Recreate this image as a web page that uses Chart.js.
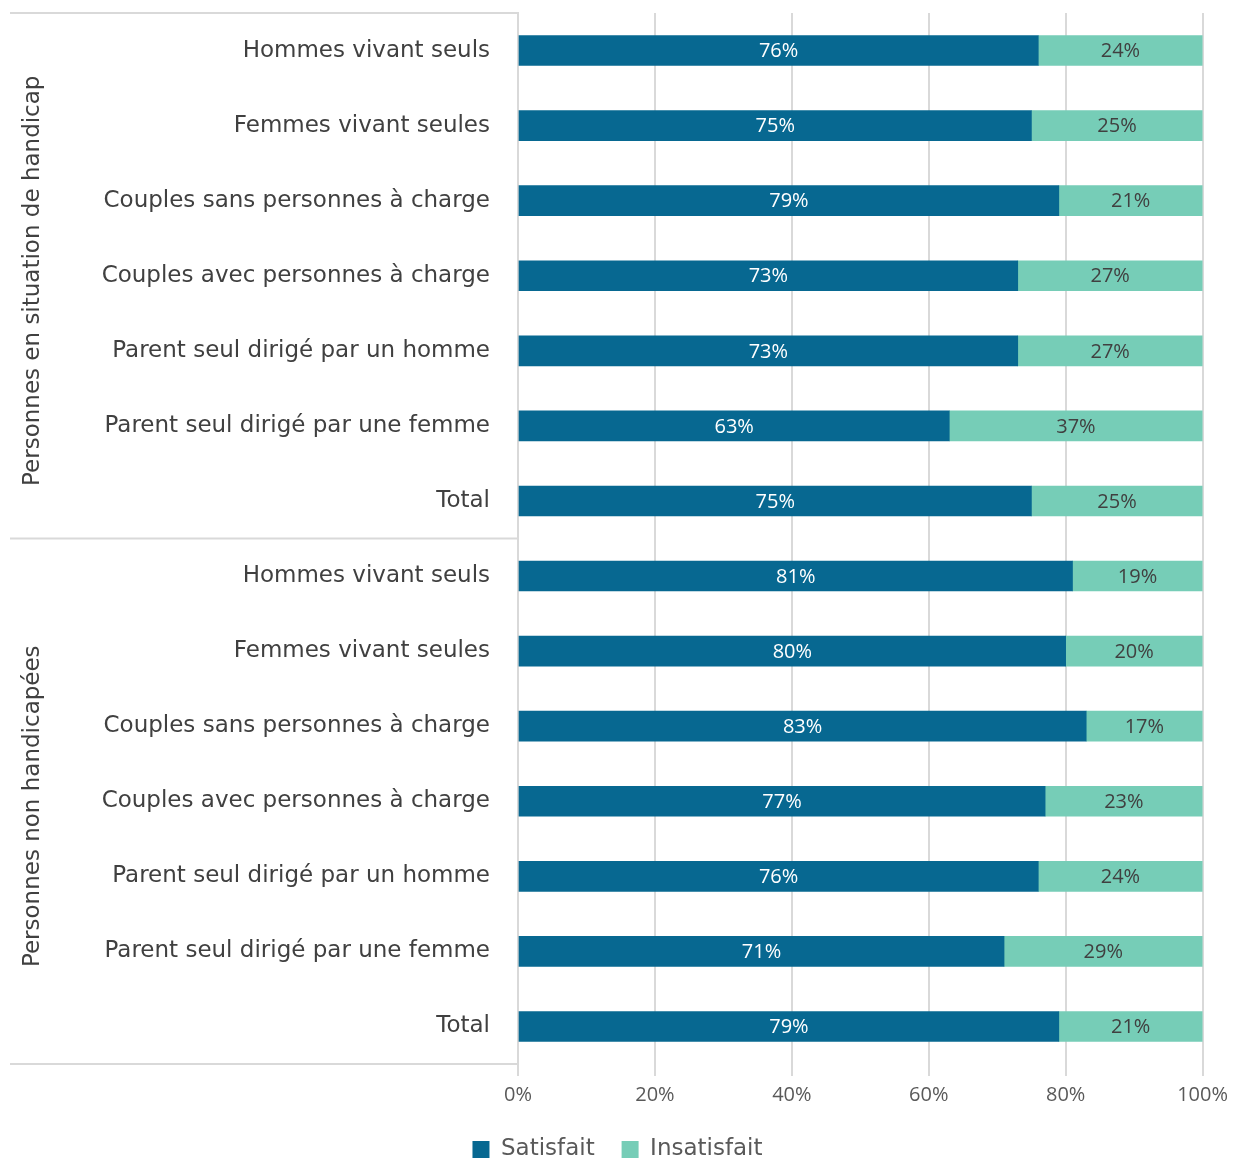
<!DOCTYPE html>
<html>
<head>
<meta charset="utf-8">
<script src="https://cdn.jsdelivr.net/npm/chart.js@4"></script>
<style>
  html, body { margin: 0; padding: 0; background: #fff; }
  #wrap { width: 1235px; height: 1161px; }
</style>
</head>
<body>
<div id="wrap"><canvas id="myChart"></canvas></div>
<script>
const categories = [
    'Hommes vivant seuls',
    'Femmes vivant seules',
    'Couples sans personnes à charge',
    'Couples avec personnes à charge',
    'Parent seul dirigé par un homme',
    'Parent seul dirigé par une femme',
    'Total',
    'Hommes vivant seuls',
    'Femmes vivant seules',
    'Couples sans personnes à charge',
    'Couples avec personnes à charge',
    'Parent seul dirigé par un homme',
    'Parent seul dirigé par une femme',
    'Total',
];
const satisfait = [76, 75, 79, 73, 73, 63, 75, 81, 80, 83, 77, 76, 71, 79];
const insatisfait = [24, 25, 21, 27, 27, 37, 25, 19, 20, 17, 23, 24, 29, 21];
const groups = ['Personnes en situation de handicap', 'Personnes non handicapées'];
const groupSizes = [7, 7];
const xTicks = [0, 20, 40, 60, 80, 100];

const labelFont = '"DejaVu Sans", sans-serif';

// étiquettes de valeur au centre des barres
const barLabels = {
    id: 'barLabels',
    afterDatasetsDraw(chart) {
        const ctx = chart.ctx;
        ctx.save();
        ctx.font = '20px "Open Sans", sans-serif';
        ctx.textAlign = 'center';
        ctx.textBaseline = 'middle';
        chart.data.datasets.forEach((ds, i) => {
            const meta = chart.getDatasetMeta(i);
            ctx.fillStyle = i === 0 ? '#ffffff' : '#404040';
            meta.data.forEach((bar, j) => {
                const cx = (bar.x + bar.base) / 2;
                ctx.fillText(ds.data[j] + '%', cx, bar.y + 1);
            });
        });
        ctx.restore();
    },
};

// séparateurs et titres de groupe à gauche
const groupAxis = {
    id: 'groupAxis',
    afterDraw(chart) {
        const ctx = chart.ctx;
        const y = chart.scales.y;
        const area = chart.chartArea;
        const half = (y.getPixelForValue(1) - y.getPixelForValue(0)) / 2;
        ctx.save();
        ctx.strokeStyle = '#d9d9d9';
        ctx.lineWidth = 2;
        let start = 0;
        const bounds = [area.top];
        groupSizes.forEach((n) => {
            start += n;
            bounds.push(start === categories.length ? area.bottom : y.getPixelForValue(start) - half);
        });
        bounds.forEach((b) => {
            ctx.beginPath();
            ctx.moveTo(10, b);
            ctx.lineTo(area.left, b);
            ctx.stroke();
        });
        ctx.fillStyle = '#404040';
        ctx.font = '23px ' + labelFont;
        ctx.textAlign = 'center';
        ctx.textBaseline = 'middle';
        groups.forEach((g, i) => {
            const mid = (bounds[i] + bounds[i + 1]) / 2 + 5;
            ctx.save();
            ctx.translate(33, mid);
            ctx.rotate(-Math.PI / 2);
            ctx.fillText(g, 0, 0);
            ctx.restore();
        });
        ctx.restore();
    },
};

new Chart('myChart', {
    type: 'bar',
    data: {
        labels: categories,
        datasets: [
            {
                label: 'Satisfait',
                data: satisfait,
                backgroundColor: '#076891',
                barThickness: 30,
            },
            {
                label: 'Insatisfait',
                data: insatisfait,
                backgroundColor: '#76cdb7',
                barThickness: 30,
            },
        ],
    },
    options: {
        indexAxis: 'y',
        responsive: true,
        maintainAspectRatio: false,
        animation: false,
        layout: { padding: { top: 13, right: 32, bottom: -10, left: 32 } },
        scales: {
            x: {
                stacked: true,
                min: 0,
                max: 100,
                afterBuildTicks: (s) => { s.ticks = xTicks.map((v) => ({ value: v })); },
                afterFit: (s) => { s.height = 69; },
                grid: { color: '#d9d9d9', lineWidth: 2, tickLength: 12, drawTicks: true },
                border: { display: false },
                ticks: {
                    callback: (v) => v + '%',
                    color: '#595959',
                    font: { family: '"Open Sans", sans-serif', size: 20 },
                    padding: 7,
                    maxRotation: 0,
                },
            },
            y: {
                stacked: true,
                grid: { display: false, drawTicks: false },
                border: { display: true, color: '#d9d9d9', width: 2 },
                afterFit: (s) => {
                    s.width = 486;
                    s.paddingTop = 0;
                    s.paddingBottom = 0;
                },
                ticks: {
                    color: '#404040',
                    font: { family: labelFont, size: 23 },
                    padding: 28,
                    autoSkip: false,
                },
            },
        },
        plugins: {
            legend: {
                position: 'bottom',
                labels: {
                    boxWidth: 17,
                    boxHeight: 17,
                    color: '#595959',
                    font: { family: labelFont, size: 23 },
                    padding: 5,
                    generateLabels: (chart) => {
                        const items = Chart.defaults.plugins.legend.labels.generateLabels(chart);
                        items[0].text += '   ';
                        return items;
                    },
                },
            },
            tooltip: { enabled: false },
        },
    },
    plugins: [barLabels, groupAxis],
});
</script>
</body>
</html>
